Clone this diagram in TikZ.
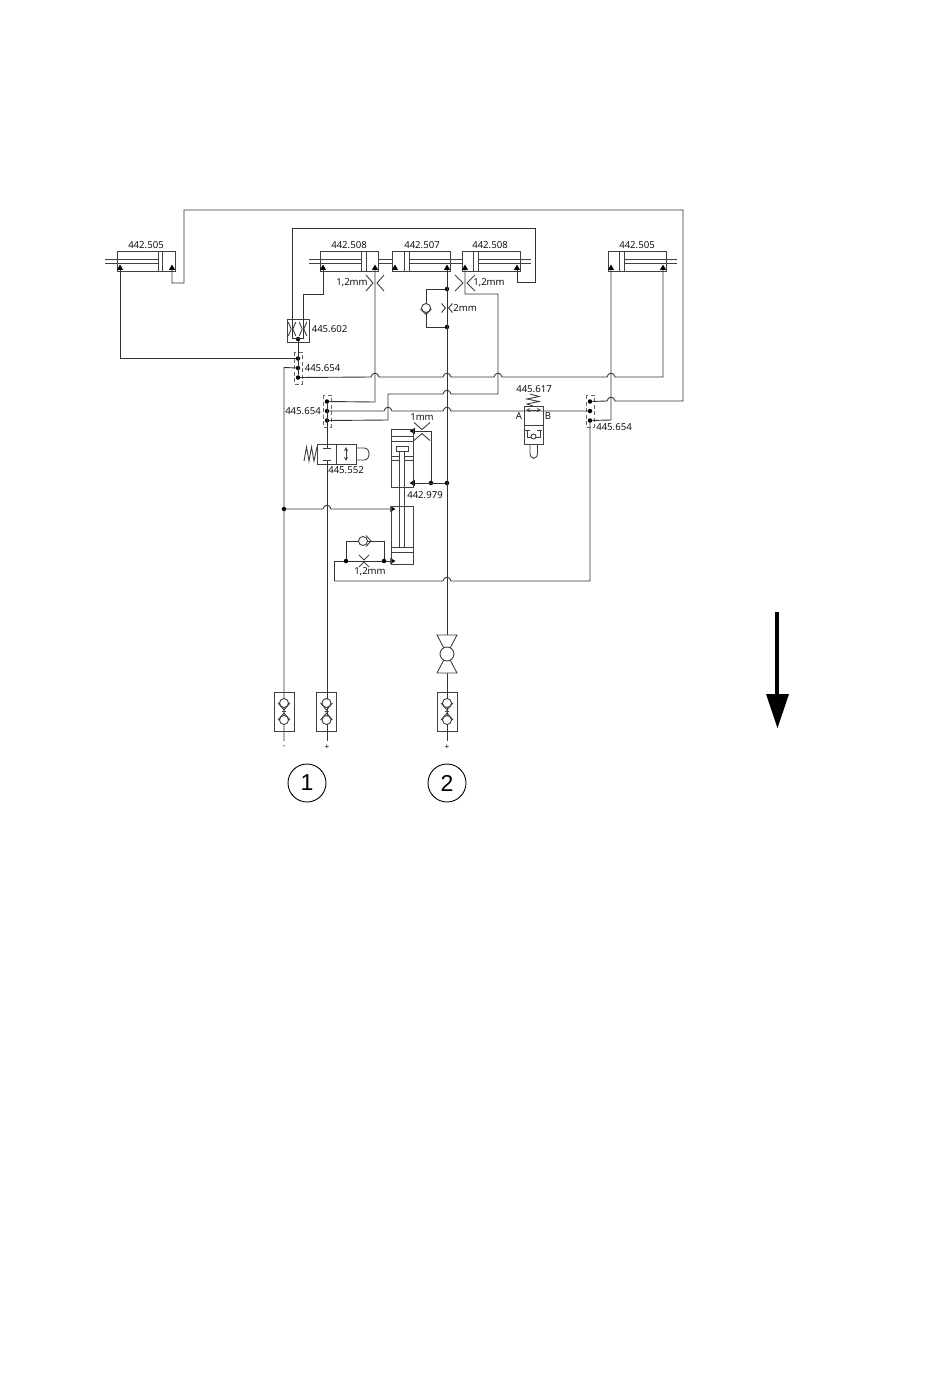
\documentclass[tikz,border=0pt]{standalone}
\usepackage{fontspec}
\setmainfont{Open Sans}
\newfontfamily\numfont{Liberation Sans}
\usetikzlibrary{shapes.geometric}
\tikzset{
  wire/.style={draw=black!80,line width=0.9pt},
  part/.style={draw=black!75,line width=0.9pt},
  dashbox/.style={draw=black!60,line width=0.9pt,dash pattern=on 4pt off 2.5pt},
  lbl/.style={inner sep=0pt,font=\fontsize{9.6}{11}\selectfont},
  small/.style={inner sep=0pt,font=\numfont\fontsize{8}{9}\selectfont},
  dot/.style={circle,fill=black,inner sep=0pt,minimum size=4.5pt},
  tip/.style={regular polygon,regular polygon sides=3,fill=black,inner sep=0pt,minimum size=7pt},
  bignum/.style={circle,draw=black,line width=0.9pt,minimum size=38pt,inner sep=0pt,font=\numfont\fontsize{23}{25}\selectfont}
}
% hop of a wire over another one, always written from left to right
\newcommand{\hop}[2]{-- ({#1-4},#2) .. controls ({#1-3},{#2-5}) and ({#1+3},{#2-5}) .. ({#1+4},#2)}
% throttles: chevrons left and right of a wire, or above and below it
\newcommand{\throttle}[5]{\draw[part] ({#1-#3-#5},{#2-#4}) -- ({#1-#5},#2) -- ({#1-#3-#5},{#2+#4}) ({#1+#3+#5},{#2-#4}) -- ({#1+#5},#2) -- ({#1+#3+#5},{#2+#4});}
\newcommand{\throttleup}[5]{\draw[part] ({#1-#4},{#2-#3-#5}) -- (#1,{#2-#5}) -- ({#1+#4},{#2-#3-#5}) ({#1-#4},{#2+#3+#5}) -- (#1,{#2+#5}) -- ({#1+#4},{#2+#3+#5});}
% cylinder: name, left edge, first and second piston line, rod start, rod end
\newcommand{\cyl}[6]{
  \draw[part] (#2,251) rectangle ({#2+58},271);
  \draw[part] (#3,251) -- (#3,271) (#4,251) -- (#4,271);
  \draw[part] (#5,259) -- (#6,259) (#5,263) -- (#6,263);
  \node[tip] (#1a) at ({#2+3},268) {};
  \node[tip] (#1b) at ({#2+55},268) {};
}
% three way block with its dashed frame
\newcommand{\block}[3]{
  \draw[dashbox] ({#2-4},#3) rectangle ({#2+4},{#3+32});
  \node[dot] (#1a) at (#2,{#3+6.5}) {};
  \node[dot] (#1b) at (#2,{#3+16}) {};
  \node[dot] (#1c) at (#2,{#3+25.5}) {};
}
% coupling at the bottom of a supply line
\newcommand{\coupling}[1]{
  \draw[part] ({#1-10},692) rectangle ({#1+10},731);
  \draw[part,fill=white] (#1,703) circle (4.5) (#1,720) circle (4.5);
  \draw[part] ({#1-6},703) -- (#1,710) -- ({#1+6},703) ({#1-6},720) -- (#1,713) -- ({#1+6},720) ({#1-2},711.5) -- ({#1+2},711.5);
}
\begin{document}
\begin{tikzpicture}[x=1pt,y=-1pt]
  \useasboundingbox (0,0) rectangle (950,1387);

  % the cylinders
  \cyl{cA}{117}{158}{162}{105}{158}
  \cyl{cB}{320}{361}{366}{309}{361}
  \cyl{cC}{392}{404}{409}{409}{462}
  \cyl{cD}{462}{473}{478}{478}{531}
  \cyl{cE}{608}{619.5}{624}{624}{677}
  \draw[part] (378,259) -- (392,259) (378,263) -- (392,263);

  % the junctions
  \block{bA}{298}{352}
  \block{bB}{327}{395}
  \block{bC}{590}{395}
  \node[dot] (top) at (447,289) {};
  \node[dot] (low) at (447,327) {};
  \node[dot] (mid) at (447,483) {};
  \node[dot] (inner) at (431,483) {};
  \node[dot] (ret) at (284,509) {};
  \node[dot] (out) at (298,339) {};
  \node[dot] (bl) at (346,561) {};
  \node[dot] (br) at (384,561) {};
  \node[tip,rotate=90] (tA) at (413,431) {};
  \node[tip,rotate=90] (tB) at (413,483) {};
  \node[tip,rotate=-90] (tC) at (392,509) {};
  \node[tip,rotate=-90] (tD) at (392,561) {};

  % the wires
  \draw[wire] (cAa) |- (bAa);
  \draw[wire] (bAc) \hop{375}{377} \hop{447}{377} \hop{498}{377} \hop{611}{377} -- (663,377) -- (cEb);
  \draw[wire] (bCa) \hop{611}{401} -- (683,401) -- (683,210) -- (184,210) -- (184,283) -- (172,283) -- (cAb);
  \draw[wire] (cBa) -- (323,294) -- (303,294) -- (303,338) -- (292,338) -- (292,228) -- (535,228) -- (535,282) -- (517,282) -- (cDb);
  \draw[wire] (out) -- (bAc);
  \draw[wire] (bAb) -- (284,367.5) -- (284,741);
  \draw[wire] (cBb) -- (375,402) -- (bBa);
  \draw[wire] (bBb) \hop{388}{411} \hop{447}{411} -- (bCb);
  \draw[wire] (bBc) -- (388,420) -- (388,394) \hop{447}{394} -- (498,394) -- (498,294) -- (465,294) -- (cDa);
  \draw[wire] (cEa) -- (611,420) -- (bCc);
  \draw[wire] (cCb) -- (447,741);
  \draw[wire] (top) -- (426,289) -- (426,327) -- (low);
  \draw[wire] (tA) -- (431,431) -- (inner);
  \draw[wire] (tB) -- (mid);
  \draw[wire] (ret) \hop{327}{509} -- (tC);
  \draw[wire] (334,581) \hop{447}{581} -- (590,581) -- (bCc);
  \draw[wire] (334,581) -- (334,561) -- (bl) -- (br) -- (tD);
  \draw[wire] (bl) -- (346,541) -- (384,541) -- (br);
  \draw[wire] (bBa) -- (327,448);
  \draw[wire] (327,460) -- (327,741);

  % valve 445.602
  \draw[part] (287,319) rectangle (309,342);
  \throttle{292}{329}{3}{7}{0.8}
  \throttle{303}{329}{3}{7}{0.8}

  % throttles
  \throttle{375}{283}{7}{8}{2}
  \throttle{465}{283}{8}{8}{2}
  \throttle{447}{308}{4}{4.5}{1.5}
  \throttleup{422}{431.5}{7}{8}{2}
  \throttleup{364}{561}{5}{5}{1}

  % check valves
  \draw[part,fill=white] (426,308) circle (4.5);
  \draw[part] (420.5,309) -- (426,314.5) -- (431.5,309);
  \draw[part,fill=white] (363,541) circle (4.5);
  \draw[part] (366,535.5) -- (371,541) -- (366,546.5);

  % valve 445.552
  \draw[part] (317,444) rectangle (356,464);
  \draw[part] (336,444) -- (336,464);
  \draw[part] (323,448) -- (331,448) (323,460) -- (331,460);
  \draw[part,<->,>=stealth] (346,447) -- (346,461);
  \draw[part] (356,448) -- (364,448) .. controls (371,448) and (371,460) .. (364,460) -- (356,460);
  \draw[part] (317,447) -- (314,461) -- (311.5,447) -- (309,461) -- (306.5,447) -- (304,461);

  % valve 445.617
  \draw[part] (524,406) rectangle (543,444);
  \draw[part] (524,425) -- (543,425);
  \draw[part,<->,>=stealth] (526,410) -- (541,410);
  \draw[part] (533,406) -- (527,404) -- (539,401.5) -- (527,399) -- (539,396.5) -- (530,394);
  \draw[part,fill=white] (533.5,436.5) circle (2.5);
  \draw[part] (525,430) -- (530,430) (527,430) -- (527,437) -- (531,437);
  \draw[part] (537,430) -- (542,430) (540,430) -- (540,437) -- (536,437);
  \draw[part] (530,444) -- (530,453) .. controls (530,460) and (537.5,460) .. (537.5,453) -- (537.5,444);

  % cylinder 442.979
  \draw[part] (391,429) rectangle (413,487);
  \draw[part] (391,436) -- (413,436) (391,441) -- (413,441);
  \draw[part] (391,456) -- (399,456) (404,456) -- (413,456) (391,460) -- (399,460) (404,460) -- (413,460);
  \draw[part] (396,446) rectangle (408,451);
  \draw[part] (391,506) rectangle (413,564);
  \draw[part] (391,547) -- (413,547) (391,552) -- (413,552);
  \draw[part] (399,451) -- (399,547) (404,451) -- (404,547);

  % bottom valve and couplings
  \draw[part,fill=white] (437,635) -- (457,635) -- (447,654) -- (437,673) -- (457,673) -- (447,654) -- cycle;
  \draw[part,fill=white] (447,654) circle (7);
  \coupling{284}
  \coupling{326.5}
  \coupling{447}

  % the big arrow
  \draw[black,line width=3.6pt] (777,612) -- (777,696);
  \fill[black] (766,694) -- (789,694) -- (777.5,728) -- cycle;

  % the texts
  \node[lbl] (n1) at (146,245) {442.505};
  \node[lbl] (n2) at (349,245) {442.508};
  \node[lbl] (n3) at (422,245) {442.507};
  \node[lbl] (n4) at (490,245) {442.508};
  \node[lbl] (n5) at (637,245) {442.505};
  \node[lbl] (n6) at (352,283) {1,2mm};
  \node[lbl] (n7) at (489,283) {1,2mm};
  \node[lbl] (n8) at (465,308) {2mm};
  \node[lbl] (n9) at (329.5,329) {445.602};
  \node[lbl] (n10) at (322.5,368) {445.654};
  \node[lbl] (n11) at (303,411) {445.654};
  \node[lbl] (n12) at (614,427) {445.654};
  \node[lbl] (n13) at (534,389) {445.617};
  \node[lbl] (n14) at (346,470) {445.552};
  \node[lbl] (n15) at (425,495) {442.979};
  \node[lbl] (n16) at (422,417) {1mm};
  \node[lbl] (n17) at (370,572) {1,2mm};
  \node[lbl] (n18) at (519,416) {A};
  \node[lbl] (n19) at (548,416) {B};
  \node[small] (n20) at (284,747) {-};
  \node[small] (n21) at (327,747) {+};
  \node[small] (n22) at (447,747) {+};
  \node[bignum] (one) at (307,783) {1};
  \node[bignum] (two) at (447,783) {2};
\end{tikzpicture}
\end{document}
